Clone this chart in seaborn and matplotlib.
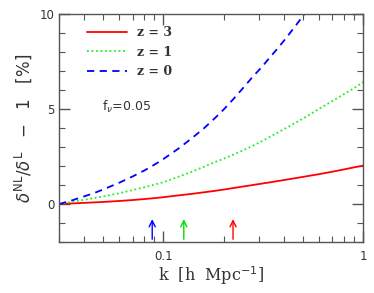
import matplotlib
matplotlib.use("Agg")
import matplotlib.pyplot as plt
import seaborn as sns
import pandas as pd
from matplotlib.ticker import LogLocator, FixedLocator, MultipleLocator, NullFormatter

# данные
k_z3 = [0.03, 0.04, 0.05, 0.06, 0.07, 0.08, 0.09, 0.1, 0.12, 0.14, 0.16, 0.18, 0.2,
        0.25, 0.3, 0.35, 0.4, 0.5, 0.6, 0.7, 0.8, 0.9, 1.0]
r_z3 = [0.0, 0.06, 0.11, 0.16, 0.21, 0.26, 0.31, 0.36, 0.46, 0.54, 0.62, 0.69, 0.76,
        0.92, 1.05, 1.16, 1.26, 1.43, 1.57, 1.70, 1.82, 1.93, 2.02]

k_z1 = [0.03, 0.04, 0.05, 0.06, 0.07, 0.08, 0.09, 0.1, 0.12, 0.14, 0.16, 0.18, 0.2,
        0.25, 0.3, 0.35, 0.4, 0.5, 0.6, 0.7, 0.8, 0.9, 1.0]
r_z1 = [0.0, 0.22, 0.40, 0.57, 0.73, 0.88, 1.02, 1.15, 1.45, 1.72, 1.97, 2.2, 2.38,
        2.82, 3.22, 3.6, 3.93, 4.5, 5.0, 5.42, 5.78, 6.1, 6.42]

k_z0 = [0.03, 0.035, 0.04, 0.045, 0.05, 0.06, 0.07, 0.08, 0.09, 0.1, 0.12, 0.14, 0.16,
        0.18, 0.2, 0.225, 0.25, 0.28, 0.31, 0.34, 0.37, 0.41, 0.45, 0.5, 0.55]
r_z0 = [0.0, 0.2, 0.4, 0.58, 0.77, 1.12, 1.45, 1.76, 2.07, 2.37, 2.95, 3.5, 4.0,
        4.5, 4.97, 5.55, 6.1, 6.7, 7.2, 7.7, 8.15, 8.72, 9.27, 9.9, 10.5]

arrow_k = [0.0878, 0.1264, 0.223]
arrow_colors = ["blue", "#00dd00", "red"]

sns.set_style("ticks")
plt.rcParams["font.family"] = ["DejaVu Sans"]

fig = plt.figure(figsize=(3.74, 2.93), dpi=100)
ax = fig.add_axes([0.158, 0.174, 0.813, 0.778])

df3 = pd.DataFrame({"k": k_z3, "r": r_z3})
df1 = pd.DataFrame({"k": k_z1, "r": r_z1})
df0 = pd.DataFrame({"k": k_z0, "r": r_z0})

sns.lineplot(data=df3, x="k", y="r", ax=ax, color="red", lw=1.3, label="z = 3")
sns.lineplot(data=df1, x="k", y="r", ax=ax, color="#22ee22", lw=1.3, ls=(0, (1, 1.5)), label="z = 1")
sns.lineplot(data=df0, x="k", y="r", ax=ax, color="blue", lw=1.3, ls=(0, (4, 3)), label="z = 0")

# стрелки у нижней оси
for kk, cc in zip(arrow_k, arrow_colors):
    ax.annotate("", xy=(kk, -0.65), xytext=(kk, -2.0),
                arrowprops=dict(arrowstyle="->", color=cc, lw=1.0, mutation_scale=11))

ax.set_xscale("log")
ax.set_xlim(0.03, 1.0)
ax.set_ylim(-2, 10)

ax.xaxis.set_major_locator(FixedLocator([0.1, 1.0]))
ax.set_xticklabels(["0.1", "1"])
ax.xaxis.set_minor_locator(LogLocator(base=10, subs=range(2, 10)))
ax.xaxis.set_minor_formatter(NullFormatter())
ax.yaxis.set_major_locator(MultipleLocator(5))
ax.yaxis.set_minor_locator(MultipleLocator(1))

for s in ax.spines.values():
    s.set_visible(True)
    s.set_color("#555555")
    s.set_linewidth(1.0)
ax.tick_params(which="both", direction="in", top=True, right=True, color="#555555",
               labelsize=8.5, labelcolor="#333333")
ax.tick_params(which="major", length=8, width=1.0)
ax.tick_params(which="minor", length=4, width=0.8)
ax.tick_params(axis="x", pad=6)

ax.set_xlabel(r"k  [h  Mpc$^{-1}$]", family="DejaVu Serif", fontsize=11.5,
              color="#333333", labelpad=1)
ax.set_ylabel(r"$\delta^{\rm NL}/\delta^{\rm L}\ \ -\ \ 1\ \ \ [\%]$", fontsize=12, color="#333333")

ax.text(0.049, 5.1, r"f$_\nu$=0.05", fontsize=9, color="#333333", va="center")

leg = ax.legend(loc="upper left", bbox_to_anchor=(0.055, 0.995), frameon=False,
                handlelength=3.2, handletextpad=0.8, labelspacing=0.5,
                prop={"family": "DejaVu Serif", "weight": "bold", "size": 9})
for t in leg.get_texts():
    t.set_color("#333333")

plt.savefig("out.png", dpi=100)
